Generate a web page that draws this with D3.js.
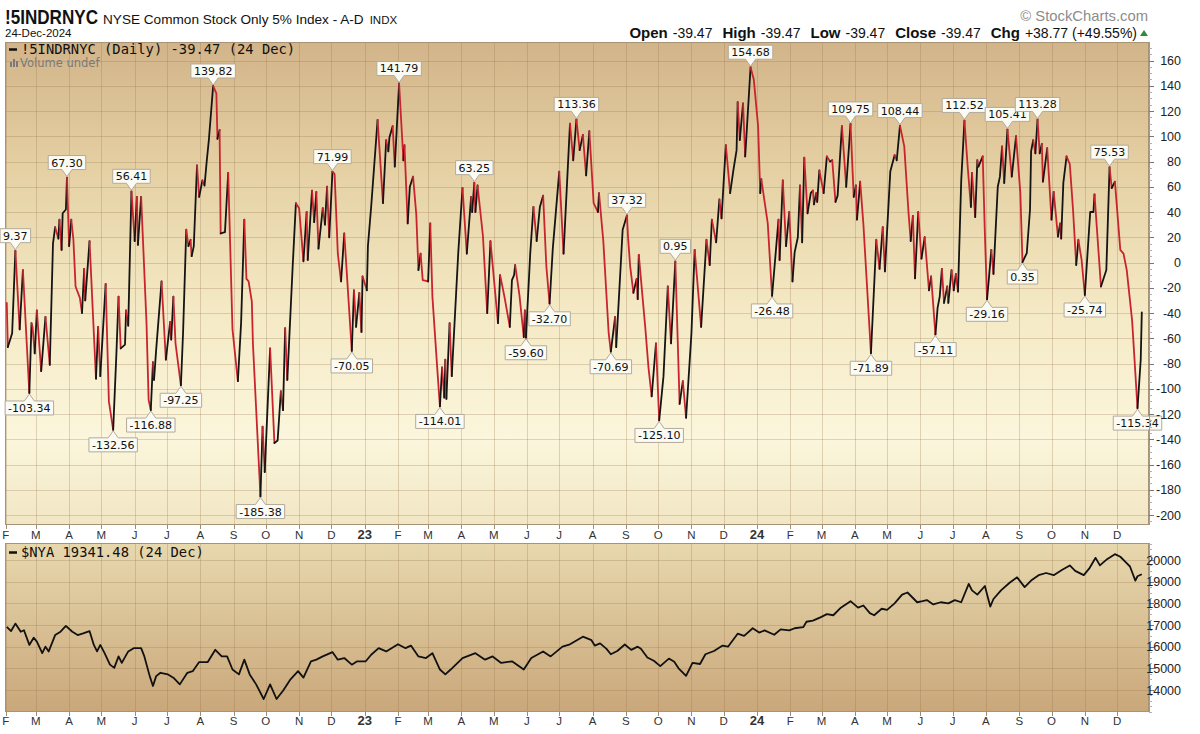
<!DOCTYPE html>
<html><head><meta charset="utf-8">
<script src="https://cdn.jsdelivr.net/npm/d3@7/dist/d3.min.js"></script>
<style>body{margin:0;background:#fff}svg{display:block}</style>
</head><body>
<svg id="chart" width="1200" height="734"></svg>
<script>
// ---------- DATA ----------
const ad2022 = [["2022-02-02",-32],["2022-02-03",-67],["2022-02-07",-56],["2022-02-10",9.37],["2022-02-14",-53],["2022-02-17",-6],["2022-02-23",-103.34],["2022-02-25",-48],["2022-02-26",-51],["2022-02-28",-72],["2022-03-02",-38],["2022-03-06",-86],["2022-03-10",-43],["2022-03-14",-81],["2022-03-17",15],["2022-03-19",28],["2022-03-22",19],["2022-03-23",34],["2022-03-25",10],["2022-03-26",39],["2022-03-29",42],["2022-03-30",67.30],["2022-04-01",13],["2022-04-03",34],["2022-04-05",18],["2022-04-07",-19],["2022-04-11",-28],["2022-04-13",-40],["2022-04-15",-5],["2022-04-16",-30],["2022-04-20",17],["2022-04-24",-56],["2022-04-26",-92],["2022-04-28",-51],["2022-04-30",-90],["2022-05-05",-17],["2022-05-08",-110],["2022-05-12",-132.56],["2022-05-15",-72],["2022-05-17",-27],["2022-05-19",-68],["2022-05-23",-65],["2022-05-24",-38],["2022-05-26",-50],["2022-05-29",56.41],["2022-06-01",17],["2022-06-03",52],["2022-06-04",14],["2022-06-07",52],["2022-06-12",-48],["2022-06-14",-109],["2022-06-16",-116.88],["2022-06-18",-79],["2022-06-19",-93],["2022-06-21",-69],["2022-06-26",-15],["2022-06-30",-77],["2022-07-04",-47],["2022-07-05",-61],["2022-07-07",-27],["2022-07-09",-64],["2022-07-14",-97.25],["2022-07-16",-56],["2022-07-19",26],["2022-07-21",13],["2022-07-23",18],["2022-07-24",5],["2022-07-26",13],["2022-07-29",77],["2022-07-31",52],["2022-08-03",65],["2022-08-05",61],["2022-08-07",80],["2022-08-09",97],["2022-08-13",139.82],["2022-08-16",134],["2022-08-17",98],["2022-08-19",105],["2022-08-20",23],["2022-08-24",24],["2022-08-27",71],["2022-08-31",-53],["2022-09-05",-94],["2022-09-08",-48],["2022-09-11",34],["2022-09-13",-13],["2022-09-15",-15],["2022-09-18",-31],["2022-09-19",-64],["2022-09-26",-185.38],["2022-09-28",-130],["2022-09-30",-166],["2022-10-05",-68],["2022-10-09",-143],["2022-10-12",-141],["2022-10-15",-102],["2022-10-17",-117],["2022-10-19",-52],["2022-10-21",-93],["2022-10-26",-3],["2022-10-29",47],["2022-11-01",43],["2022-11-05",1],["2022-11-08",40],["2022-11-09",2],["2022-11-13",57],["2022-11-15",32],["2022-11-17",56],["2022-11-19",11],["2022-11-23",43],["2022-11-25",30],["2022-11-27",60],["2022-11-29",20],["2022-12-02",71.99],["2022-12-04",70],["2022-12-07",7],["2022-12-10",-15],["2022-12-13",23],["2022-12-20",-70.05],["2022-12-22",-22],["2022-12-24",-51],["2022-12-27",-24],["2022-12-29",-55],["2022-12-30",-11]];
const ad2023 = [["2023-01-03",-22],["2023-01-04",13],["2023-01-07",44],["2023-01-13",113],["2023-01-18",47],["2023-01-21",97],["2023-01-23",88],["2023-01-24",99],["2023-01-27",108],["2023-01-29",76],["2023-02-02",141.79],["2023-02-06",81],["2023-02-07",93],["2023-02-10",31],["2023-02-12",60],["2023-02-15",68],["2023-02-18",38],["2023-02-20",-6],["2023-02-22",7],["2023-02-24",-14],["2023-03-01",-15],["2023-03-03",31],["2023-03-05",-27],["2023-03-10",-90],["2023-03-12",-114.01],["2023-03-14",-83],["2023-03-16",-107],["2023-03-17",-77],["2023-03-18",-108],["2023-03-21",-48],["2023-03-23",-90],["2023-03-29",7],["2023-04-02",59],["2023-04-06",7],["2023-04-10",52],["2023-04-11",40],["2023-04-13",63.25],["2023-04-14",40],["2023-04-16",61],["2023-04-21",21],["2023-04-25",-40],["2023-04-28",17],["2023-05-05",-48],["2023-05-07",-10],["2023-05-11",-27],["2023-05-16",-51],["2023-05-18",-14],["2023-05-20",-10],["2023-05-21",-2],["2023-05-25",-26],["2023-05-29",-59],["2023-05-30",-38],["2023-05-31",-59.60],["2023-06-04",7],["2023-06-07",44],["2023-06-10",17],["2023-06-13",44],["2023-06-16",53],["2023-06-19",-3],["2023-06-22",-32.70],["2023-06-25",11],["2023-07-01",72],["2023-07-05",7],["2023-07-11",110],["2023-07-14",81],["2023-07-17",113.36],["2023-07-20",89],["2023-07-23",101],["2023-07-26",69],["2023-07-29",104],["2023-08-02",47],["2023-08-06",40],["2023-08-07",55],["2023-08-11",17],["2023-08-16",-56],["2023-08-18",-70.69],["2023-08-22",-43],["2023-08-23",-67],["2023-08-29",26],["2023-09-02",37.32],["2023-09-03",20],["2023-09-05",-3],["2023-09-08",-24],["2023-09-11",-13],["2023-09-12",-29],["2023-09-13",6],["2023-09-19",-51],["2023-09-22",-83],["2023-09-25",-106],["2023-09-29",-64],["2023-10-02",-125.10],["2023-10-06",-90],["2023-10-10",-19],["2023-10-13",-64],["2023-10-17",0.95],["2023-10-21",-112],["2023-10-24",-94],["2023-10-27",-123],["2023-11-01",-56],["2023-11-04",10],["2023-11-10",-51],["2023-11-15",18],["2023-11-18",-2],["2023-11-20",34],["2023-11-24",16],["2023-11-27",50],["2023-11-29",35],["2023-12-03",93],["2023-12-07",55],["2023-12-10",73],["2023-12-13",89],["2023-12-14",127],["2023-12-16",97],["2023-12-19",126],["2023-12-21",84],["2023-12-26",154.68],["2023-12-29",145]];
const ad2024 = [["2024-01-02",108],["2024-01-04",55],["2024-01-05",66],["2024-01-11",31],["2024-01-15",-26.48],["2024-01-21",34],["2024-01-22",2],["2024-01-25",65],["2024-01-28",13],["2024-01-31",40],["2024-02-03",-15],["2024-02-05",8],["2024-02-08",20],["2024-02-10",61],["2024-02-12",16],["2024-02-14",83],["2024-02-17",39],["2024-02-20",55],["2024-02-22",57],["2024-02-23",46],["2024-02-25",55],["2024-02-26",48],["2024-02-28",73],["2024-03-03",55],["2024-03-06",84],["2024-03-09",80],["2024-03-11",81],["2024-03-14",48],["2024-03-16",53],["2024-03-20",108],["2024-03-24",60],["2024-03-28",109.75],["2024-03-31",52],["2024-04-02",61],["2024-04-03",34],["2024-04-06",64],["2024-04-09",30],["2024-04-16",-71.89],["2024-04-21",18],["2024-04-24",-5],["2024-04-27",28],["2024-04-29",-7],["2024-05-04",72],["2024-05-08",85],["2024-05-10",81],["2024-05-13",108.44],["2024-05-17",92],["2024-05-21",39],["2024-05-23",17],["2024-05-25",37],["2024-05-27",-12.5],["2024-05-30",40],["2024-06-02",3],["2024-06-05",20],["2024-06-09",-22],["2024-06-11",-11],["2024-06-15",-57.11],["2024-06-17",-36],["2024-06-19",-27],["2024-06-21",-5],["2024-06-23",-32],["2024-06-26",-19],["2024-06-27",-32],["2024-06-30",-6],["2024-07-02",-22],["2024-07-04",-9],["2024-07-06",-23],["2024-07-09",65],["2024-07-12",112.52],["2024-07-15",76],["2024-07-18",44],["2024-07-19",71],["2024-07-22",36],["2024-07-24",81],["2024-07-25",76],["2024-07-29",84],["2024-07-31",23],["2024-08-02",-29.16],["2024-08-04",-10],["2024-08-06",10],["2024-08-08",-9],["2024-08-12",60],["2024-08-14",68],["2024-08-16",92],["2024-08-18",63],["2024-08-21",105.41],["2024-08-25",68],["2024-08-29",100],["2024-09-02",55],["2024-09-04",0.35],["2024-09-08",7.5],["2024-09-11",42],["2024-09-12",88],["2024-09-14",97],["2024-09-16",86.5],["2024-09-18",113.28],["2024-09-20",86.5],["2024-09-22",94],["2024-09-23",64],["2024-09-27",90.5],["2024-10-01",34],["2024-10-03",56],["2024-10-07",20.5],["2024-10-09",31],["2024-10-10",19],["2024-10-12",63],["2024-10-15",84],["2024-10-18",78],["2024-10-21",42],["2024-10-24",-2],["2024-10-26",18],["2024-10-29",2],["2024-11-01",-25.74],["2024-11-06",40],["2024-11-09",40],["2024-11-10",54],["2024-11-16",-19],["2024-11-21",-6],["2024-11-24",75.53],["2024-11-26",59],["2024-11-29",64],["2024-12-04",10],["2024-12-07",7],["2024-12-10",-6],["2024-12-15",-46],["2024-12-20",-115.34],["2024-12-23",-77],["2024-12-24",-39.47]];

const labeledDates = ["2022-02-10","2022-02-23","2022-03-30","2022-05-12","2022-05-29","2022-06-16","2022-07-14","2022-08-13","2022-09-26","2022-12-02","2022-12-20","2023-02-02","2023-03-12","2023-04-13","2023-05-31","2023-06-22","2023-07-17","2023-08-18","2023-09-02","2023-10-02","2023-10-17","2023-12-26","2024-01-15","2024-03-28","2024-04-16","2024-05-13","2024-06-15","2024-07-12","2024-08-02","2024-08-21","2024-09-04","2024-09-18","2024-11-01","2024-11-24","2024-12-20"];

const nya2022 = [["2022-02-02",16910],["2022-02-06",16720],["2022-02-10",17065],["2022-02-15",16690],["2022-02-18",16760],["2022-02-23",16080],["2022-02-27",16415],["2022-03-02",16235],["2022-03-07",15700],["2022-03-10",16000],["2022-03-13",15780],["2022-03-19",16535],["2022-03-24",16690],["2022-03-29",16960],["2022-04-04",16690],["2022-04-09",16535],["2022-04-14",16610],["2022-04-20",16720],["2022-04-24",16080],["2022-04-27",15780],["2022-04-30",16080],["2022-05-04",15700],["2022-05-09",15170],["2022-05-13",15020],["2022-05-17",15550],["2022-05-20",15250],["2022-05-26",15780],["2022-05-31",15930],["2022-06-07",15930],["2022-06-10",15550],["2022-06-15",14640],["2022-06-18",14185],["2022-06-21",14640],["2022-06-25",14795],["2022-07-02",14720],["2022-07-07",14570],["2022-07-13",14260],["2022-07-20",14795],["2022-07-25",14870],["2022-07-31",15290],["2022-08-08",15290],["2022-08-15",15855],["2022-08-21",15550],["2022-08-26",15550],["2022-08-31",14945],["2022-09-06",14720],["2022-09-11",15400],["2022-09-16",14720],["2022-09-22",14260],["2022-09-29",13585],["2022-10-05",14260],["2022-10-11",13585],["2022-10-17",13965],["2022-10-24",14495],["2022-10-31",14870],["2022-11-05",14570],["2022-11-12",15325],["2022-11-17",15400],["2022-11-23",15550],["2022-12-02",15750],["2022-12-07",15400],["2022-12-13",15475],["2022-12-20",15170],["2022-12-25",15325]];
const nya2023 = [["2023-01-02",15325],["2023-01-07",15625],["2023-01-14",15930],["2023-01-21",15780],["2023-02-01",16110],["2023-02-08",15930],["2023-02-13",16050],["2023-02-20",15550],["2023-02-27",15475],["2023-03-05",15700],["2023-03-12",14945],["2023-03-17",14720],["2023-03-22",14945],["2023-04-02",15475],["2023-04-14",15700],["2023-04-23",15400],["2023-04-30",15550],["2023-05-08",15250],["2023-05-18",15325],["2023-05-29",14945],["2023-06-05",15475],["2023-06-16",15780],["2023-06-23",15550],["2023-07-04",16000],["2023-07-11",16110],["2023-07-23",16460],["2023-07-31",16300],["2023-08-03",16050],["2023-08-08",16150],["2023-08-14",15900],["2023-08-18",15650],["2023-08-24",15800],["2023-08-31",16100],["2023-09-06",15850],["2023-09-12",16000],["2023-09-15",15900],["2023-09-21",15500],["2023-09-27",15350],["2023-10-03",15100],["2023-10-11",15450],["2023-10-16",15300],["2023-10-20",15000],["2023-10-27",14650],["2023-11-02",15250],["2023-11-09",15200],["2023-11-14",15650],["2023-11-22",15800],["2023-11-30",16050],["2023-12-05",16000],["2023-12-14",16600],["2023-12-20",16500],["2023-12-28",16850]];
const nya2024 = [["2024-01-03",16650],["2024-01-08",16750],["2024-01-17",16550],["2024-01-23",16800],["2024-01-31",16750],["2024-02-05",16850],["2024-02-13",16900],["2024-02-16",17150],["2024-02-22",17200],["2024-02-29",17350],["2024-03-06",17500],["2024-03-12",17450],["2024-03-19",17800],["2024-03-28",18100],["2024-04-04",17800],["2024-04-09",17900],["2024-04-15",17550],["2024-04-19",17450],["2024-04-26",17750],["2024-05-01",17700],["2024-05-08",18000],["2024-05-15",18400],["2024-05-20",18500],["2024-05-29",18050],["2024-06-03",18100],["2024-06-07",18150],["2024-06-13",17950],["2024-06-20",18050],["2024-06-27",18000],["2024-07-03",18150],["2024-07-09",18050],["2024-07-16",18900],["2024-07-19",18600],["2024-07-24",18400],["2024-07-31",18800],["2024-08-05",17850],["2024-08-08",18200],["2024-08-15",18600],["2024-08-23",18950],["2024-08-30",19200],["2024-09-06",18750],["2024-09-12",19050],["2024-09-19",19300],["2024-09-26",19400],["2024-10-03",19300],["2024-10-11",19550],["2024-10-18",19750],["2024-10-23",19500],["2024-10-31",19300],["2024-11-05",19600],["2024-11-11",20100],["2024-11-15",19750],["2024-11-22",20050],["2024-11-29",20270],["2024-12-04",20150],["2024-12-09",19900],["2024-12-13",19700],["2024-12-18",19050],["2024-12-20",19250],["2024-12-24",19341.48]];

const monthLetters = ["J","F","M","A","M","J","J","A","S","O","N","D"];
const adTicks = [-200,-180,-160,-140,-120,-100,-80,-60,-40,-20,0,20,40,60,80,100,120,140,160];
const nyaTicks = [14000,15000,16000,17000,18000,19000,20000];
const ohlc = [["Open","-39.47"],["High","-39.47"],["Low","-39.47"],["Close","-39.47"],["Chg","+38.77 (+49.55%)"]];

// ---------- SETUP ----------
const svg = d3.select("#chart");
const parse = d3.utcParse("%Y-%m-%d");
const ad = [...ad2022, ...ad2023, ...ad2024].map(([d,v]) => ({date: parse(d), value: v}));
const nya = [...nya2022, ...nya2023, ...nya2024].map(([d,v]) => ({date: parse(d), value: v}));

const L = 5, R = 1149;
const top1 = 42, bot1 = 525, top2 = 543, bot2 = 712;
const x = d3.scaleUtc().domain([parse("2022-02-01"), parse("2025-01-01")]).range([5.7, 1150.4]);
const y1 = d3.scaleLinear().domain([-200, 160]).range([515, 60.5]);
const y2 = d3.scaleLinear().domain([14000, 20000]).range([690, 560]);

const defs = svg.append("defs");
const g1 = defs.append("linearGradient").attr("id","bg1").attr("x1",0).attr("y1",0).attr("x2",0).attr("y2",1);
[[0,"#d2b489"],[0.25,"#e4cfa2"],[0.55,"#f4e9c4"],[0.82,"#fbf6dc"],[1,"#f1e6c4"]].forEach(([o,c]) => g1.append("stop").attr("offset",o).attr("stop-color",c));
const g2 = defs.append("linearGradient").attr("id","bg2").attr("x1",0).attr("y1",0).attr("x2",0).attr("y2",1);
[[0,"#e8d8ae"],[1,"#c9a77a"]].forEach(([o,c]) => g2.append("stop").attr("offset",o).attr("stop-color",c));
defs.append("clipPath").attr("id","clip1").append("rect").attr("x",L).attr("y",top1).attr("width",R-L).attr("height",bot1-top1);
defs.append("clipPath").attr("id","clip2").append("rect").attr("x",L).attr("y",top2).attr("width",R-L).attr("height",bot2-top2);

svg.append("rect").attr("x",L).attr("y",top1).attr("width",R-L).attr("height",bot1-top1).attr("fill","url(#bg1)");
svg.append("rect").attr("x",L).attr("y",top2).attr("width",R-L).attr("height",bot2-top2).attr("fill","url(#bg2)");

const months = d3.utcMonth.range(parse("2022-02-01"), parse("2025-01-01"));
const gridColor = "rgba(150,115,75,0.28)";

// grids
[[top1,bot1],[top2,bot2]].forEach(([t,b]) => {
  svg.append("g").selectAll("line").data(months).join("line")
    .attr("x1", d => Math.round(x(d))+0.5).attr("x2", d => Math.round(x(d))+0.5)
    .attr("y1", t).attr("y2", b).attr("stroke", gridColor).attr("stroke-width",1);
});
svg.append("g").selectAll("line").data(adTicks).join("line")
  .attr("x1",L).attr("x2",R).attr("y1",d=>Math.round(y1(d))+0.5).attr("y2",d=>Math.round(y1(d))+0.5)
  .attr("stroke",gridColor);
svg.append("g").selectAll("line").data(nyaTicks).join("line")
  .attr("x1",L).attr("x2",R).attr("y1",d=>Math.round(y2(d))+0.5).attr("y2",d=>Math.round(y2(d))+0.5)
  .attr("stroke",gridColor);

// panel borders
[[top1,bot1],[top2,bot2]].forEach(([t,b]) => {
  svg.append("rect").attr("x",L+0.5).attr("y",t+0.5).attr("width",R-L-1).attr("height",b-t-1)
    .attr("fill","none").attr("stroke","#a89377").attr("stroke-width",1);
});

// ---------- TOP LINE (colored by direction) ----------
const lineG = svg.append("g").attr("clip-path","url(#clip1)");
const RED = "#c8242f", BLK = "#141414";
let runs = [];
for (let i = 1; i < ad.length; i++) {
  const col = ad[i].value >= ad[i-1].value ? BLK : RED;
  if (runs.length && runs[runs.length-1].col === col) runs[runs.length-1].pts.push(ad[i]);
  else runs.push({col, pts: [ad[i-1], ad[i]]});
}
const lineGen1 = d3.line().x(d => x(d.date)).y(d => y1(d.value));
lineG.selectAll("path").data(runs).join("path")
  .attr("d", d => lineGen1(d.pts)).attr("fill","none").attr("stroke", d => d.col)
  .attr("stroke-width",1.8).attr("stroke-linejoin","round").attr("stroke-linecap","round");

// ---------- BOTTOM LINE ----------
svg.append("g").attr("clip-path","url(#clip2)").append("path")
  .attr("d", d3.line().x(d => x(d.date)).y(d => y2(d.value))(nya))
  .attr("fill","none").attr("stroke","#111").attr("stroke-width",1.8).attr("stroke-linejoin","round");

// ---------- PEAK / TROUGH LABELS ----------
const labG = svg.append("g");
const fmt = v => v.toFixed(2);
labeledDates.forEach(ds => {
  const t = +parse(ds);
  const i = ad.findIndex(p => +p.date === t);
  if (i < 0) return;
  const p = ad[i];
  const prev = ad[i-1], next = ad[i+1];
  const isPeak = (!prev || p.value >= prev.value) && (!next || p.value >= next.value);
  const px = x(p.date), py = y1(p.value);
  const grp = labG.append("g");
  const txt = grp.append("text").text(fmt(p.value))
    .attr("font-family","DejaVu Sans, Verdana, sans-serif").attr("font-size",11).attr("fill","#111")
    .attr("text-anchor","middle");
  const w = txt.node().getComputedTextLength() + 6, h = 14, gap = 8;
  let pathD;
  if (isPeak) {
    const bb = py - gap, bt = bb - h;
    pathD = `M${px-w/2},${bt}H${px+w/2}V${bb}H${px+5}L${px},${py-1}L${px-5},${bb}H${px-w/2}Z`;
    txt.attr("x",px).attr("y",bb-3);
  } else {
    const bt = py + gap, bb = bt + h;
    pathD = `M${px-w/2},${bt}H${px-5}L${px},${py+1}L${px+5},${bt}H${px+w/2}V${bb}H${px-w/2}Z`;
    txt.attr("x",px).attr("y",bb-3);
  }
  grp.insert("path","text").attr("d",pathD).attr("fill","#fbfaf3").attr("stroke","#b2aa9c").attr("stroke-width",1);
});

// ---------- RIGHT AXES ----------
function rightAxis(scale, ticks, minorStep, t, b) {
  const g = svg.append("g");
  g.append("line").attr("x1",R+0.5).attr("x2",R+0.5).attr("y1",t).attr("y2",b).attr("stroke","#9a9a9a");
  if (minorStep) {
    const minors = d3.range(Math.ceil(scale.invert(b)/minorStep)*minorStep, scale.invert(t), minorStep);
    g.selectAll("line.mn").data(minors).join("line").attr("class","mn")
      .attr("x1",R).attr("x2",R+3).attr("y1",d=>Math.round(scale(d))+0.5).attr("y2",d=>Math.round(scale(d))+0.5)
      .attr("stroke","#b0b0b0");
  }
  g.selectAll("line.mj").data(ticks).join("line").attr("class","mj")
    .attr("x1",R).attr("x2",R+5).attr("y1",d=>Math.round(scale(d))+0.5).attr("y2",d=>Math.round(scale(d))+0.5)
    .attr("stroke","#777");
  g.selectAll("text").data(ticks).join("text")
    .attr("x",1181).attr("y",d=>scale(d)+4.5).attr("text-anchor","end")
    .attr("font-family","Liberation Sans, Arial, sans-serif").attr("font-size",12.5).attr("fill","#222")
    .text(d => d);
}
rightAxis(y1, adTicks, 5, top1, bot1);
rightAxis(y2, nyaTicks, 250, top2, bot2);

// ---------- X AXES ----------
function xAxis(yTickTop, yLabel) {
  const g = svg.append("g");
  g.selectAll("line").data(months).join("line")
    .attr("x1",d=>Math.round(x(d))+0.5).attr("x2",d=>Math.round(x(d))+0.5)
    .attr("y1",yTickTop).attr("y2",yTickTop+4).attr("stroke","#a08a70");
  g.selectAll("text").data(months).join("text")
    .attr("x",d=>x(d)).attr("y",yLabel).attr("text-anchor","middle")
    .attr("font-family","Liberation Sans, Arial, sans-serif")
    .attr("font-size",d=>d.getUTCMonth()===0?13:11.5)
    .attr("font-weight",d=>d.getUTCMonth()===0?"bold":"normal")
    .attr("fill","#333")
    .text(d => d.getUTCMonth()===0 ? String(d.getUTCFullYear()).slice(2) : monthLetters[d.getUTCMonth()]);
}
xAxis(bot1, 538.5);
xAxis(bot2, 725);

// ---------- LEGENDS ----------
const legFont = "DejaVu Sans Mono, monospace";
svg.append("line").attr("x1",9).attr("x2",17).attr("y1",49.5).attr("y2",49.5).attr("stroke","#111").attr("stroke-width",2.5);
svg.append("text").attr("x",21).attr("y",54).attr("font-family",legFont).attr("font-size",13.8).attr("fill","#111")
  .text("!5INDRNYC (Daily) -39.47 (24 Dec)");
const vb = svg.append("g").attr("fill","#7a7a7a");
[[10,62,2,5],[13,59,2,8],[16,61,2,6]].forEach(([a,b,c,d]) => vb.append("rect").attr("x",a).attr("y",b).attr("width",c).attr("height",d));
svg.append("text").attr("x",20).attr("y",67).attr("font-family","DejaVu Sans, Verdana, sans-serif").attr("font-size",11.5).attr("fill","#7a7a7a").text("Volume undef");

svg.append("line").attr("x1",9).attr("x2",17).attr("y1",552.5).attr("y2",552.5).attr("stroke","#111").attr("stroke-width",2.5);
svg.append("text").attr("x",21).attr("y",557).attr("font-family",legFont).attr("font-size",13.8).attr("fill","#111")
  .text("$NYA 19341.48 (24 Dec)");

// ---------- HEADER ----------
const hf = "Liberation Sans, Arial, sans-serif";
svg.append("text").attr("x",5).attr("y",24).attr("font-family",hf).attr("font-weight","bold").attr("font-size",20)
  .attr("textLength",93).attr("lengthAdjust","spacingAndGlyphs").attr("fill","#111").text("!5INDRNYC");
const ttl = svg.append("text").attr("x",103).attr("y",24).attr("font-family",hf).attr("fill","#111");
ttl.append("tspan").attr("font-size",13.6).text("NYSE Common Stock Only 5% Index - A-D");
ttl.append("tspan").attr("font-size",11.5).attr("dx",6).text("INDX");
svg.append("text").attr("x",5).attr("y",37).attr("font-family",hf).attr("font-size",11.5).attr("fill","#111").text("24-Dec-2024");
svg.append("text").attr("x",1148).attr("y",21).attr("text-anchor","end").attr("font-family",hf).attr("font-size",14.8).attr("fill","#8c8c8c").text("© StockCharts.com");

const oh = svg.append("text").attr("x",1137).attr("y",38).attr("text-anchor","end").attr("font-family",hf).attr("fill","#111");
ohlc.forEach(([k,v],i) => {
  oh.append("tspan").attr("font-weight","bold").attr("font-size",15).attr("dx", i ? 10 : 0).text(k);
  oh.append("tspan").attr("font-size",14).attr("dx",5).text(v);
});
svg.append("path").attr("d","M1140,36 L1148,36 L1144,30 Z").attr("fill","#2e8b3a");
</script>
</body></html>
